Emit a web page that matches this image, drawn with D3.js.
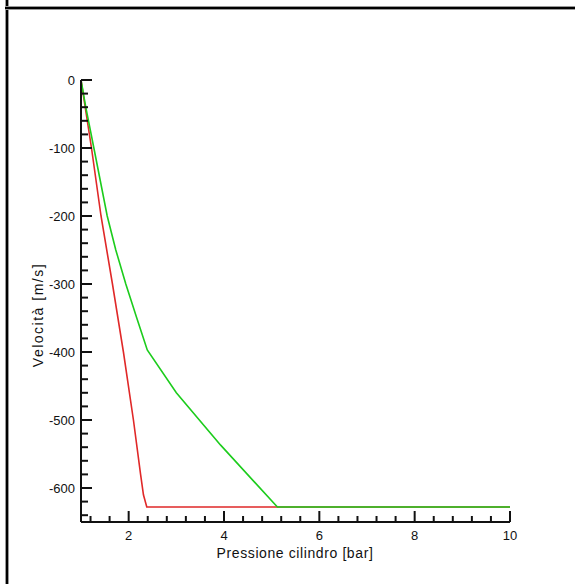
<!DOCTYPE html>
<html>
<head>
<meta charset="utf-8">
<script src="https://cdn.jsdelivr.net/npm/d3@7"></script>
<style>
  body { margin: 0; background: #fff; }
  text { font-family: "Liberation Sans", Arial, sans-serif; font-size: 13px; fill: #111; }
</style>
</head>
<body>
<div id="chart"></div>
<script>
// Velocità vs pressione cilindro
const width = 575, height = 584;

// data
const redX   = [1, 1.22, 1.42, 1.66, 1.89, 2.10, 2.25, 2.31, 2.38, 5.12, 10];
const redY   = [0, -100, -200, -300, -400, -500, -580, -610, -628, -628, -628];
const greenX = [1, 1.1, 1.27, 1.41, 1.55, 1.73, 1.94, 2.17, 2.39, 3.0, 3.93, 5.12, 10];
const greenY = [0, -40, -100, -150, -200, -250, -300, -350, -397, -460, -537, -628, -628];
const xTicks = [2, 4, 6, 8, 10];
const yTicks = [0, -100, -200, -300, -400, -500, -600];

const svg = d3.select("#chart").append("svg").attr("width", width).attr("height", height);

// window frame (left edge + top bar)
svg.append("line").attr("x1", 7).attr("x2", 7).attr("y1", 0).attr("y2", height)
  .attr("stroke", "#999").attr("stroke-width", 4);
svg.append("line").attr("x1", 7).attr("x2", 7).attr("y1", 0).attr("y2", height)
  .attr("stroke", "#000").attr("stroke-width", 2);
svg.append("line").attr("x1", 5).attr("x2", width).attr("y1", 8).attr("y2", 8)
  .attr("stroke", "#999").attr("stroke-width", 4);
svg.append("line").attr("x1", 5).attr("x2", width).attr("y1", 8).attr("y2", 8)
  .attr("stroke", "#000").attr("stroke-width", 2);

const x = d3.scaleLinear().domain([1, 10]).range([81, 510]);
const y = d3.scaleLinear().domain([-650, 0]).range([522, 80]);

const line = d3.line().x(d => x(d[0])).y(d => y(d[1]));
svg.append("path").datum(d3.zip(redX, redY)).attr("d", line)
  .attr("fill", "none").attr("stroke", "#e02828").attr("stroke-width", 1.6);
svg.append("path").datum(d3.zip(greenX, greenY)).attr("d", line)
  .attr("fill", "none").attr("stroke", "#1ccc1c").attr("stroke-width", 1.6);

// axes: ticks point inward
const xMinor = d3.range(1.2, 10.01, 0.4).filter(v => !xTicks.some(t => Math.abs(t - v) < 1e-6));
const yMinor = d3.range(-640, 0, 20).filter(v => v % 100 !== 0);

const ax = svg.append("g").attr("stroke", "#111").attr("stroke-width", 2);
ax.append("line").attr("x1", x(1)).attr("x2", x(10)).attr("y1", y(-650)).attr("y2", y(-650));
ax.append("line").attr("x1", x(1)).attr("x2", x(1)).attr("y1", y(-650)).attr("y2", y(0));
ax.selectAll(".xt").data(xTicks).join("line")
  .attr("x1", d => x(d)).attr("x2", d => x(d)).attr("y1", y(-650)).attr("y2", y(-650) - 11);
ax.selectAll(".xm").data(xMinor).join("line")
  .attr("x1", d => x(d)).attr("x2", d => x(d)).attr("y1", y(-650)).attr("y2", y(-650) - 6);
ax.selectAll(".yt").data(yTicks).join("line")
  .attr("y1", d => y(d)).attr("y2", d => y(d)).attr("x1", x(1)).attr("x2", x(1) + 11);
ax.selectAll(".ym").data(yMinor).join("line")
  .attr("y1", d => y(d)).attr("y2", d => y(d)).attr("x1", x(1)).attr("x2", x(1) + 7);

svg.selectAll(".xl").data(xTicks).join("text")
  .attr("x", d => x(d)).attr("y", y(-650) + 18).attr("text-anchor", "middle").text(d => d);
svg.selectAll(".yl").data(yTicks).join("text")
  .attr("x", x(1) - 6).attr("y", d => y(d) + 5).attr("text-anchor", "end").text(d => d);

svg.append("text").attr("x", 295).attr("y", 558).attr("text-anchor", "middle")
  .style("font-size", "14px").style("letter-spacing", "0.6px")
  .text("Pressione cilindro [bar]");
svg.append("text").attr("transform", "translate(43,315) rotate(-90)").attr("text-anchor", "middle")
  .style("font-size", "14px").style("letter-spacing", "1.5px")
  .text("Velocità [m/s]");
</script>
</body>
</html>
